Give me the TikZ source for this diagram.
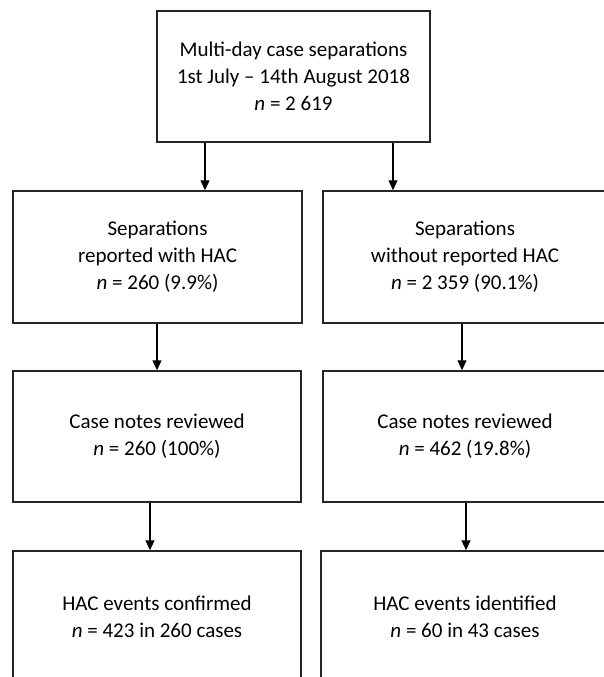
\documentclass[tikz,border=0pt]{standalone}
\usepackage{fontspec}
\setmainfont{Carlito}
\usetikzlibrary{arrows.meta}
\begin{document}
\begin{tikzpicture}[x=1pt,y=1pt,
  box/.style={draw=black!85, line width=1.5pt, align=center, inner sep=0pt,
    font=\fontsize{21}{27}\selectfont},
  arr/.style={draw=black, line width=1.3pt, -{Triangle[length=10pt,width=9pt]}}]
\useasboundingbox (0,0) rectangle (604,-677);
\clip (0,0) rectangle (604,-677);
\fill[white] (0,0) rectangle (604,-677);
\node[box, minimum width=273pt, minimum height=131pt] (top) at (293.5,-76.5)
  {Multi-day case separations\\1st July – 14th August 2018\\\textit{n} = 2 619};
\node[box, minimum width=289pt, minimum height=132pt] (L2) at (157.5,-257)
  {Separations\\reported with HAC\\\textit{n} = 260 (9.9\%)};
\node[box, minimum width=284pt, minimum height=132pt] (R2) at (465,-257)
  {Separations\\without reported HAC\\\textit{n} = 2 359 (90.1\%)};
\node[box, minimum width=288pt, minimum height=131pt] (L3) at (157,-436.5)
  {Case notes reviewed\\\textit{n} = 260 (100\%)};
\node[box, minimum width=284pt, minimum height=131pt] (R3) at (465,-436.5)
  {Case notes reviewed\\\textit{n} = 462 (19.8\%)};
\node[box, minimum width=288pt, minimum height=131pt] (L4) at (157,-616.5)
  {HAC events confirmed\\\textit{n} = 423 in 260 cases};
\node[box, minimum width=288pt, minimum height=131pt] (R4) at (465,-616.5)
  {HAC events identified\\\textit{n} = 60 in 43 cases};
\coordinate (c1) at (205,0);
\coordinate (c2) at (393,0);
\coordinate (c3) at (157,0);
\coordinate (c4) at (462,0);
\coordinate (c5) at (150,0);
\coordinate (c6) at (466,0);
\draw[arr] (c1 |- top.south) -- (c1 |- L2.north);
\draw[arr] (c2 |- top.south) -- (c2 |- R2.north);
\draw[arr] (c3 |- L2.south) -- (c3 |- L3.north);
\draw[arr] (c4 |- R2.south) -- (c4 |- R3.north);
\draw[arr] (c5 |- L3.south) -- (c5 |- L4.north);
\draw[arr] (c6 |- R3.south) -- (c6 |- R4.north);
\end{tikzpicture}
\end{document}
